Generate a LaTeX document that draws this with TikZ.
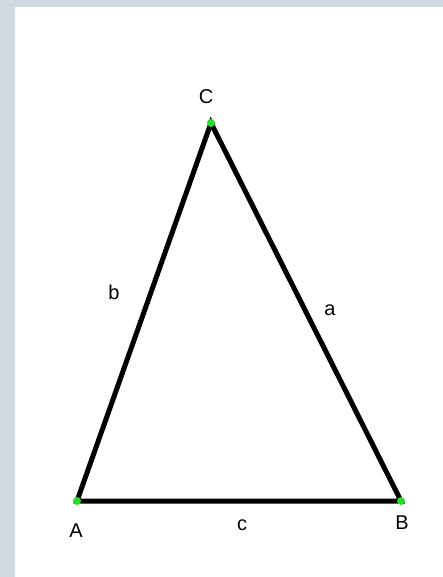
\documentclass[tikz,border=0pt]{standalone}
\usepackage{fontspec}
\setmainfont{Liberation Sans}
\definecolor{frame}{RGB}{206,217,226}
\definecolor{vgreen}{RGB}{40,220,40}
\begin{document}
\begin{tikzpicture}[x=1pt,y=-1pt,
  side/.style={line width=5pt,black},
  vdot/.style={circle,fill=vgreen,inner sep=0pt,minimum size=8pt},
  lab/.style={font=\fontsize{20}{20}\selectfont,inner sep=0pt}]
\fill[frame] (0,0) rectangle (443,577);
\fill[white] (15,7) rectangle (443,577);
\useasboundingbox (0,0) rectangle (443,577);
\coordinate (A) at (77,501);
\coordinate (B) at (401,501);
\coordinate (C) at (211,123);
\draw[side,line join=miter] (A) -- (B) -- (C) -- cycle;
\node[vdot] (dA) at (A) {};
\node[vdot] (dB) at (B) {};
\node[vdot] (dC) at (C) {};
\node[lab] (lC) at (206,97) {C};
\node[lab] (lA) at (76,531) {A};
\node[lab] (lB) at (402,523) {B};
\node[lab] (lb) at (114,292) {b};
\node[lab] (la) at (330,310) {a};
\node[lab] (lc) at (242,525) {c};
\end{tikzpicture}
\end{document}
